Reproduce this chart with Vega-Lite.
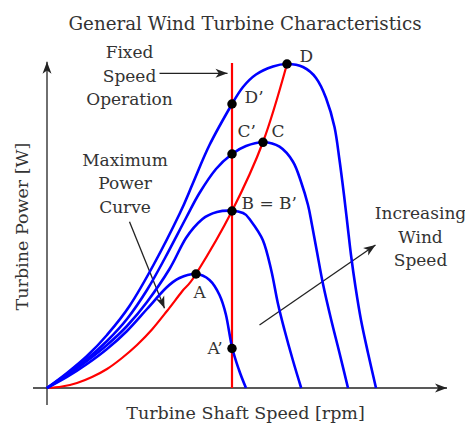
{
  "$schema": "https://vega.github.io/schema/vega-lite/v6.json",
  "width": 414,
  "height": 343,
  "autosize": "none",
  "padding": {"left": 33, "top": 62, "right": 18, "bottom": 19},
  "title": {
    "text": "General Wind Turbine Characteristics",
    "font": "DejaVu Serif",
    "fontSize": 18.3,
    "fontWeight": "normal",
    "color": "#333333",
    "frame": "group",
    "anchor": "middle",
    "baseline": "alphabetic",
    "offset": -4,
    "dx": 5
  },
  "config": {"view": {"stroke": null}, "font": "DejaVu Serif"},
  "datasets": {
    "curves": [
      {"curve": "A", "speed": 0, "power": 0},
      {"curve": "A", "speed": 20, "power": 11},
      {"curve": "A", "speed": 40, "power": 24},
      {"curve": "A", "speed": 60, "power": 39},
      {"curve": "A", "speed": 80, "power": 57},
      {"curve": "A", "speed": 100, "power": 79},
      {"curve": "A", "speed": 119, "power": 100},
      {"curve": "A", "speed": 132.5, "power": 110},
      {"curve": "A", "speed": 149, "power": 114},
      {"curve": "A", "speed": 162.5, "power": 108},
      {"curve": "A", "speed": 172.5, "power": 93},
      {"curve": "A", "speed": 179, "power": 73},
      {"curve": "A", "speed": 185, "power": 41},
      {"curve": "A", "speed": 192, "power": 18},
      {"curve": "A", "speed": 199, "power": 0},
      {"curve": "B", "speed": 0, "power": 0},
      {"curve": "B", "speed": 20, "power": 12.5},
      {"curve": "B", "speed": 40, "power": 27},
      {"curve": "B", "speed": 60, "power": 43},
      {"curve": "B", "speed": 80, "power": 62},
      {"curve": "B", "speed": 100, "power": 86},
      {"curve": "B", "speed": 122.5, "power": 119},
      {"curve": "B", "speed": 139, "power": 150},
      {"curve": "B", "speed": 155.5, "power": 169},
      {"curve": "B", "speed": 170, "power": 176},
      {"curve": "B", "speed": 185, "power": 177.3},
      {"curve": "B", "speed": 196, "power": 175},
      {"curve": "B", "speed": 202.5, "power": 169},
      {"curve": "B", "speed": 215.8, "power": 148},
      {"curve": "B", "speed": 224.2, "power": 118},
      {"curve": "B", "speed": 230.8, "power": 85},
      {"curve": "B", "speed": 237.5, "power": 58},
      {"curve": "B", "speed": 245.8, "power": 28},
      {"curve": "B", "speed": 254.2, "power": 0},
      {"curve": "C", "speed": 0, "power": 0},
      {"curve": "C", "speed": 20, "power": 14},
      {"curve": "C", "speed": 40, "power": 29},
      {"curve": "C", "speed": 60, "power": 47},
      {"curve": "C", "speed": 80, "power": 69},
      {"curve": "C", "speed": 100, "power": 98},
      {"curve": "C", "speed": 118, "power": 130},
      {"curve": "C", "speed": 139, "power": 170},
      {"curve": "C", "speed": 152.5, "power": 195},
      {"curve": "C", "speed": 169, "power": 219},
      {"curve": "C", "speed": 185, "power": 234},
      {"curve": "C", "speed": 199, "power": 242},
      {"curve": "C", "speed": 216, "power": 245.7},
      {"curve": "C", "speed": 232.5, "power": 241.3},
      {"curve": "C", "speed": 246, "power": 226.3},
      {"curve": "C", "speed": 254, "power": 206.3},
      {"curve": "C", "speed": 261, "power": 183},
      {"curve": "C", "speed": 265, "power": 163},
      {"curve": "C", "speed": 270, "power": 136},
      {"curve": "C", "speed": 276, "power": 104},
      {"curve": "C", "speed": 284, "power": 69},
      {"curve": "C", "speed": 292.5, "power": 35},
      {"curve": "C", "speed": 301, "power": 0},
      {"curve": "D", "speed": 0, "power": 0},
      {"curve": "D", "speed": 20, "power": 15},
      {"curve": "D", "speed": 40, "power": 32},
      {"curve": "D", "speed": 60, "power": 53},
      {"curve": "D", "speed": 82.5, "power": 82},
      {"curve": "D", "speed": 107, "power": 124},
      {"curve": "D", "speed": 132.5, "power": 174},
      {"curve": "D", "speed": 146, "power": 205},
      {"curve": "D", "speed": 162.5, "power": 243},
      {"curve": "D", "speed": 185, "power": 284},
      {"curve": "D", "speed": 196, "power": 301},
      {"curve": "D", "speed": 209, "power": 313.5},
      {"curve": "D", "speed": 226, "power": 321.5},
      {"curve": "D", "speed": 240, "power": 324},
      {"curve": "D", "speed": 256, "power": 321},
      {"curve": "D", "speed": 269, "power": 310},
      {"curve": "D", "speed": 279, "power": 290},
      {"curve": "D", "speed": 287.5, "power": 261},
      {"curve": "D", "speed": 292.5, "power": 228},
      {"curve": "D", "speed": 297, "power": 193},
      {"curve": "D", "speed": 300.5, "power": 163},
      {"curve": "D", "speed": 304, "power": 133},
      {"curve": "D", "speed": 308.5, "power": 101},
      {"curve": "D", "speed": 314, "power": 68},
      {"curve": "D", "speed": 321, "power": 35},
      {"curve": "D", "speed": 329, "power": 0}
    ],
    "mpp": [
      {"speed": 0, "power": 0},
      {"speed": 15, "power": 1.5},
      {"speed": 30, "power": 5},
      {"speed": 45, "power": 11},
      {"speed": 60, "power": 19},
      {"speed": 75, "power": 30},
      {"speed": 90, "power": 43},
      {"speed": 105, "power": 58.5},
      {"speed": 120, "power": 77},
      {"speed": 135, "power": 96.5},
      {"speed": 149, "power": 114},
      {"speed": 185, "power": 177},
      {"speed": 216, "power": 246},
      {"speed": 240, "power": 324}
    ],
    "fixed": [{"speed": 185, "power": 0, "power2": 325}],
    "points": [
      {"label": "A", "speed": 149, "power": 114},
      {"label": "A’", "speed": 185, "power": 39.5},
      {"label": "B = B’", "speed": 185, "power": 177},
      {"label": "C", "speed": 216, "power": 245.7},
      {"label": "C’", "speed": 185, "power": 234},
      {"label": "D", "speed": 240, "power": 324},
      {"label": "D’", "speed": 185, "power": 284}
    ],
    "labels": [
      {"label": "A", "speed": 146.5, "power": 95.5},
      {"label": "A’", "speed": 160.5, "power": 39},
      {"label": "B = B’", "speed": 194.5, "power": 184.5},
      {"label": "C", "speed": 224.5, "power": 256},
      {"label": "C’", "speed": 190.5, "power": 256},
      {"label": "D", "speed": 252.5, "power": 331},
      {"label": "D’", "speed": 197.5, "power": 290}
    ],
    "notes": [
      {"note": "Fixed\nSpeed\nOperation", "speed": 82.5, "power": 334.7},
      {"note": "Maximum\nPower\nCurve", "speed": 78, "power": 227.3},
      {"note": "Increasing\nWind\nSpeed", "speed": 373.5, "power": 174}
    ],
    "arrows": [
      {"arrow": "x axis", "speed": -14, "power": 0, "speed2": 400, "power2": 0, "heading": 0},
      {"arrow": "y axis", "speed": 0, "power": -17, "speed2": 0, "power2": 326.3, "heading": -90},
      {"arrow": "fixed speed", "speed": 112.5, "power": 314.7, "speed2": 180.5, "power2": 314.7, "heading": 0},
      {"arrow": "max power", "speed": 82.5, "power": 166.3, "speed2": 117.5, "power2": 79.7, "heading": 68},
      {"arrow": "wind", "speed": 212.5, "power": 63, "speed2": 328.5, "power2": 143, "heading": -34.6}
    ]
  },
  "encoding": {
    "x": {
      "field": "speed",
      "type": "quantitative",
      "scale": {"domain": [-14, 400], "nice": false, "zero": false},
      "axis": {
        "title": "Turbine Shaft Speed [rpm]",
        "domain": false, "ticks": false, "labels": false, "grid": false,
        "titleFont": "DejaVu Serif", "titleFontSize": 17.5, "titleFontWeight": "normal",
        "titleColor": "#333333", "titleX": 212, "titleY": 13,
        "titleBaseline": "alphabetic", "titleAlign": "center"
      }
    },
    "y": {
      "field": "power",
      "type": "quantitative",
      "scale": {"domain": [-17, 326], "nice": false, "zero": false},
      "axis": {
        "title": "Turbine Power [W]",
        "domain": false, "ticks": false, "labels": false, "grid": false,
        "titleFont": "DejaVu Serif", "titleFontSize": 17.5, "titleFontWeight": "normal",
        "titleColor": "#333333", "titleX": -6, "titleY": 164, "titleAngle": -90,
        "titleBaseline": "alphabetic", "titleAlign": "center"
      }
    }
  },
  "layer": [
    {
      "data": {"name": "arrows"},
      "mark": {"type": "rule", "color": "#222222", "strokeWidth": 1.3},
      "encoding": {"x2": {"field": "speed2"}, "y2": {"field": "power2"}}
    },
    {
      "data": {"name": "arrows"},
      "mark": {"type": "point", "shape": "M0,0 L-2,-0.75 L-1.45,0 L-2,0.75 Z", "filled": true, "color": "#222222", "opacity": 1, "size": 144},
      "encoding": {
        "x": {"field": "speed2", "type": "quantitative"},
        "y": {"field": "power2", "type": "quantitative"},
        "angle": {"field": "heading", "type": "quantitative", "scale": null}
      }
    },
    {
      "data": {"name": "mpp"},
      "mark": {"type": "line", "color": "#ff0000", "strokeWidth": 2.2, "interpolate": "cardinal"},
      "encoding": {}
    },
    {
      "data": {"name": "fixed"},
      "mark": {"type": "rule", "color": "#ff0000", "strokeWidth": 2.2},
      "encoding": {"y2": {"field": "power2"}}
    },
    {
      "data": {"name": "curves"},
      "mark": {"type": "line", "color": "#0000ff", "strokeWidth": 2.6, "interpolate": "cardinal"},
      "encoding": {"detail": {"field": "curve"}}
    },
    {
      "data": {"name": "points"},
      "mark": {"type": "point", "shape": "circle", "filled": true, "color": "#000000", "opacity": 1, "size": 90}
    },
    {
      "data": {"name": "labels"},
      "mark": {"type": "text", "align": "left", "baseline": "middle", "font": "DejaVu Serif", "fontSize": 17, "color": "#333333"},
      "encoding": {"text": {"field": "label"}}
    },
    {
      "data": {"name": "notes"},
      "mark": {"type": "text", "align": "center", "baseline": "middle", "font": "DejaVu Serif", "fontSize": 17, "color": "#333333", "lineBreak": "\n", "lineHeight": 23.5},
      "encoding": {"text": {"field": "note"}}
    }
  ]
}
